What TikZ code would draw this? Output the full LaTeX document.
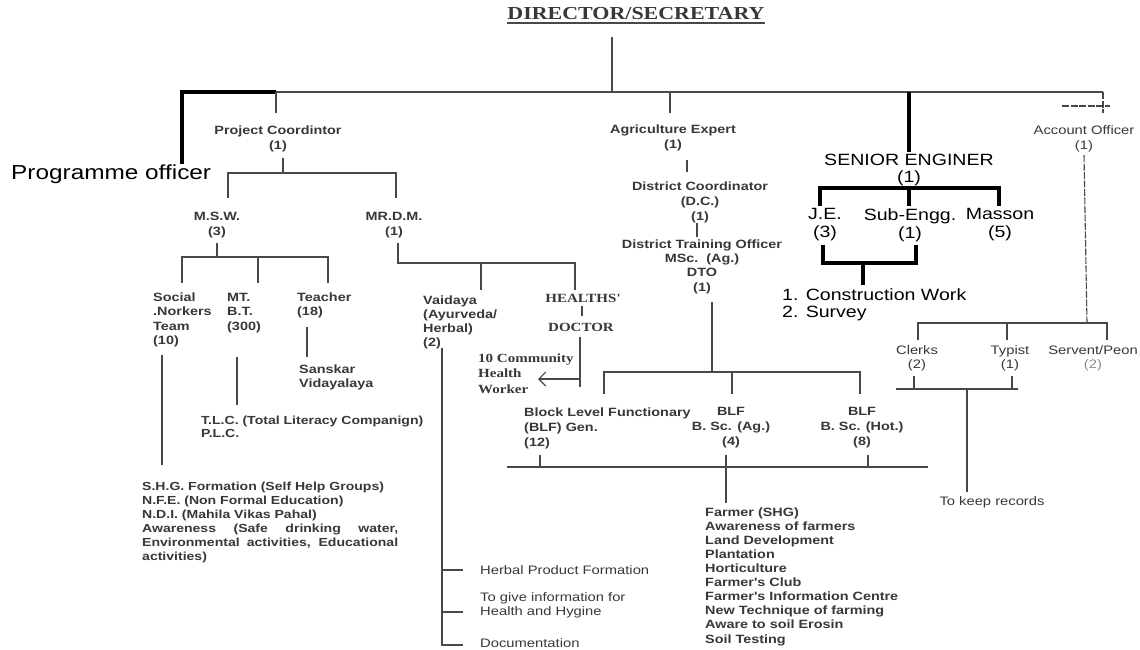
\documentclass[tikz,border=0pt]{standalone}
\usepackage{fontspec}
\newfontfamily\arw[FakeStretch=1.2]{Liberation Sans}
\newfontfamily\tms[FakeStretch=1.2]{Liberation Serif}
\usetikzlibrary{arrows.meta}
\definecolor{ink}{HTML}{383838}
\definecolor{lnc}{HTML}{484848}
\begin{document}
\begin{tikzpicture}[x=1pt,y=-1pt,
  ln/.style={draw=lnc, line width=1.1pt},
  thk/.style={draw=black, line width=3.4pt},
  dsh/.style={draw=lnc, line width=1.1pt, dash pattern=on 7pt off 1.5pt},
  sm/.style={inner sep=0pt, text=ink, font=\arw\bfseries\fontsize{12}{14.5}\selectfont, align=center},
  smr/.style={inner sep=0pt, text=ink, font=\arw\fontsize{12.3}{14}\selectfont, align=center},
  sml/.style={sm, align=left, anchor=west},
  smrl/.style={smr, align=left, anchor=west},
  big/.style={inner sep=0pt, text=black, font=\arw\fontsize{16.3}{18}\selectfont, align=center},
  bigl/.style={big, align=left, anchor=west, font=\arw\fontsize{16.3}{17}\selectfont},
  ser/.style={inner sep=0pt, text=ink, font=\tms\bfseries\fontsize{12.5}{15.5}\selectfont},
]
\useasboundingbox[fill=white] (0,0) rectangle (1140,649);

% ---------- title ----------
\node[inner sep=0pt, text=ink, font=\tms\bfseries\fontsize{18.3}{20}\selectfont] (dir) at (636,14) {DIRECTOR/SECRETARY};
\draw[ln] ([yshift=-3pt]dir.base west) -- ([yshift=-3pt]dir.base east);

% ---------- coordinates ----------
\coordinate (t0) at (612,37);  \coordinate (b0) at (612,92);
\coordinate (bL) at (276,92);  \coordinate (bR) at (1103,92);
\coordinate (poT) at (182,92);
\coordinate (pcT) at (276,113);
\coordinate (pcB) at (283,158); \coordinate (pcJ) at (283,173);
\coordinate (msJ) at (228,173); \coordinate (mrJ) at (396,173);
\coordinate (msA) at (228,198); \coordinate (mrA) at (396,198);
\coordinate (mswB) at (217,243); \coordinate (mswJ) at (217,257);
\coordinate (swJ) at (182,257); \coordinate (mtJ) at (258,257); \coordinate (teJ) at (328,257);
\coordinate (swA) at (182,283); \coordinate (mtA) at (258,283); \coordinate (teA) at (328,283);
\coordinate (teB) at (307,327); \coordinate (saT) at (307,357);
\coordinate (mtB) at (237,357); \coordinate (tlT) at (237,405);
\coordinate (swB) at (162,355); \coordinate (shT) at (162,465);
\coordinate (mrB) at (398,243); \coordinate (mrJ2) at (398,263);
\coordinate (vaJ) at (481,263); \coordinate (hdJ) at (575,263);
\coordinate (vaA) at (481,290); \coordinate (hdA) at (575,290);
\coordinate (hsB) at (582,306); \coordinate (dcT) at (582,316);
\coordinate (drB) at (580,337); \coordinate (drE) at (580,387);
\coordinate (arS) at (580,379); \coordinate (arE) at (538,379);
\coordinate (vaB) at (442,348); \coordinate (vaE) at (442,645); \coordinate (doE) at (463,645);
\coordinate (hpS) at (442,570); \coordinate (hpE) at (463,570);
\coordinate (hhS) at (442,612); \coordinate (hhE) at (463,612);
\coordinate (aeT) at (670,92);  \coordinate (aeA) at (670,113);
\coordinate (aeB) at (687,160); \coordinate (dcA) at (687,172);
\coordinate (dcB) at (697,223); \coordinate (dtA) at (697,237);
\coordinate (dtB) at (712,302); \coordinate (blJ) at (712,372);
\coordinate (b1J) at (604,372); \coordinate (b2J) at (732,372); \coordinate (b3J) at (860,372);
\coordinate (b1A) at (604,394); \coordinate (b2A) at (732,394); \coordinate (b3A) at (860,394);
\coordinate (fbL) at (507,467); \coordinate (fbR) at (928,467);
\coordinate (f1T) at (540,455); \coordinate (f1J) at (540,467);
\coordinate (f2T) at (726,455); \coordinate (fmA) at (726,503);
\coordinate (f3T) at (868,455); \coordinate (f3J) at (868,467);
\coordinate (seT) at (909,92);  \coordinate (seA) at (909,152);
\coordinate (seL) at (820,188); \coordinate (seM) at (909,188); \coordinate (seR) at (999,188);
\coordinate (jeA) at (820,206); \coordinate (sbA) at (909,206); \coordinate (maA) at (999,206);
\coordinate (jeB) at (823,245); \coordinate (jeC) at (823,263);
\coordinate (sbC) at (916,263); \coordinate (sbB) at (916,245);
\coordinate (cwJ) at (863,263); \coordinate (cwA) at (863,285);
\coordinate (acT) at (1103,113); \coordinate (acS1) at (1062,106); \coordinate (acS2) at (1110,106);
\coordinate (acB) at (1084,155); \coordinate (acJ) at (1087,323);
\coordinate (ckJ) at (918,323); \coordinate (tyJ) at (1007,323); \coordinate (srJ) at (1107,323);
\coordinate (ckA) at (918,340); \coordinate (tyA) at (1007,340); \coordinate (srA) at (1107,340);
\coordinate (kbL) at (896,389); \coordinate (kbR) at (1018,389);
\coordinate (ck1) at (914,376); \coordinate (ck2) at (914,389);
\coordinate (ty1) at (1012,376); \coordinate (ty2) at (1012,389);
\coordinate (krJ) at (967,389); \coordinate (krA) at (967,492);

% ---------- nodes ----------
\node[inner sep=0pt, text=black, font=\arw\fontsize{20.3}{22}\selectfont, anchor=west] (po) at (11,174) {Programme officer};
\node[sm] (pc) at (278,139) {Project Coordintor\\(1)};
\node[sm] (msw) at (217,225) {M.S.W.\\(3)};
\node[sm] (mrdm) at (394,225) {MR.D.M.\\(1)};
\node[sml] (sw) at (153,320) {Social\\.Norkers\\Team\\(10)};
\node[sml] (mt) at (227,313) {MT.\\B.T.\\(300)};
\node[sml] (te) at (297,305.5) {Teacher\\(18)};
\node[sml] (sa) at (299,377.5) {Sanskar\\Vidayalaya};
\node[sml, font=\arw\bfseries\fontsize{11.7}{13}\selectfont] (tlc) at (201,427) {T.L.C. (Total Literacy Companign)\\P.L.C.};
\node[sml, font=\arw\bfseries\fontsize{11.7}{14}\selectfont] (shg) at (142,522) {S.H.G. Formation (Self Help Groups)\\N.F.E. (Non Formal Education)\\N.D.I. (Mahila Vikas Pahal)\\\makebox[256pt][s]{Awareness (Safe drinking water,}\\\makebox[256pt][s]{Environmental activities, Educational}\\activities)};
\node[sml, font=\arw\bfseries\fontsize{12}{14}\selectfont] (va) at (423,322) {Vaidaya\\(Ayurveda/\\Herbal)\\(2)};
\node[ser] (hs) at (583,298) {HEALTHS'};
\node[ser] (doc) at (581,327) {DOCTOR};
\node[ser, align=left, anchor=west] (chw) at (478,373.5) {10 Community\\Health\\Worker};
\node[smrl] (hp) at (480,570) {Herbal Product Formation};
\node[smrl] (hh) at (480,605) {To give information for\\Health and Hygine};
\node[smrl] (docu) at (480,643) {Documentation};

\node[sm] (ae) at (673,138) {Agriculture Expert\\(1)};
\node[sm, font=\arw\bfseries\fontsize{12}{15}\selectfont] (dc) at (700,202) {District Coordinator\\(D.C.)\\(1)};
\node[sm, font=\arw\bfseries\fontsize{12}{14.3}\selectfont] (dto) at (702,266.5) {District Training Officer\\MSc.~~(Ag.)\\DTO\\(1)};
\node[sml, font=\arw\bfseries\fontsize{12}{15}\selectfont] (blf1) at (524,428) {Block Level Functionary\\(BLF) Gen.\\(12)};
\node[sm, font=\arw\bfseries\fontsize{12}{15}\selectfont] (blf2) at (731,428) {BLF\\B. Sc. (Ag.)\\(4)};
\node[sm, font=\arw\bfseries\fontsize{12}{15}\selectfont] (blf3) at (862,428) {BLF\\B. Sc. (Hot.)\\(8)};
\node[sml, font=\arw\bfseries\fontsize{12}{14.1}\selectfont] (fm) at (705,576.5) {Farmer (SHG)\\Awareness of farmers\\Land Development\\Plantation\\Horticulture\\Farmer's Club\\Farmer's Information Centre\\New Technique of farming\\Aware to soil Erosin\\Soil Testing};

\node[big, font=\arw\fontsize{16.3}{17}\selectfont] (se) at (909,169.5) {SENIOR ENGINER\\(1)};
\node[big] (je) at (825,225) {J.E.\\(3)};
\node[big] (sb) at (910,225) {Sub-Engg.\\(1)};
\node[big] (ma) at (1000,225) {Masson\\(5)};
\node[bigl] (cw) at (782,304.5) {1. Construction Work\\2. Survey};

\node[smr, font=\arw\fontsize{12.3}{15}\selectfont] (ao) at (1084,138.5) {Account Officer\\(1)};
\node[smr] (ck) at (917,358) {Clerks\\(2)};
\node[smr] (ty) at (1010,358) {Typist\\(1)};
\node[smr] (sp) at (1093,358) {Servent/Peon\\\textcolor{black!45}{(2)}};
\node[smr] (kr) at (992,502) {To keep records};

% ---------- connectors ----------
\draw[ln] (t0) -- (b0);
\draw[ln] (bL) -- (bR);
\draw[thk] (bL) -- (poT) -- (poT |- po.north);
\draw[ln] (bL) -- (pcT);
\draw[ln] (pcB) -- (pcJ);
\draw[ln] (msA) -- (msJ) -- (mrJ) -- (mrA);
\draw[ln] (mswB) -- (mswJ);
\draw[ln] (swA) -- (swJ) -- (teJ) -- (teA);
\draw[ln] (mtJ) -- (mtA);
\draw[ln] (teB) -- (saT);
\draw[ln] (mtB) -- (tlT);
\draw[ln] (swB) -- (shT);
\draw[ln] (mrB) -- (mrJ2) -- (hdJ) -- (hdA);
\draw[ln] (vaJ) -- (vaA);
\draw[ln] (hsB) -- (dcT);
\draw[ln] (drB) -- (drE);
\draw[ln, -{Straight Barb[length=7pt,width=14pt]}] (arS) -- (arE);
\draw[ln] (vaB) -- (vaE) -- (doE);
\draw[ln] (hpS) -- (hpE);
\draw[ln] (hhS) -- (hhE);
\draw[ln] (aeT) -- (aeA);
\draw[ln] (aeB) -- (dcA);
\draw[ln] (dcB) -- (dtA);
\draw[ln] (dtB) -- (blJ);
\draw[ln] (b1A) -- (b1J) -- (b3J) -- (b3A);
\draw[ln] (b2J) -- (b2A);
\draw[ln] (fbL) -- (fbR);
\draw[ln] (f1T) -- (f1J);
\draw[ln] (f2T) -- (fmA);
\draw[ln] (f3T) -- (f3J);
\draw[thk] (seT) -- (seA);
\draw[thk] (jeA) -- (seL) -- (seR) -- (maA);
\draw[thk] (seM) -- (sbA);
\draw[thk] (jeB) -- (jeC) -- (sbC) -- (sbB);
\draw[thk] (cwJ) -- (cwA);
\draw[dsh] (bR) -- (acT);
\draw[dsh] (acS1) -- (acS2);
\draw[dsh] (acB) -- (acJ);
\draw[ln] (ckA) -- (ckJ) -- (srJ) -- (srA);
\draw[ln] (tyJ) -- (tyA);
\draw[ln] (kbL) -- (kbR);
\draw[ln] (ck1) -- (ck2);
\draw[ln] (ty1) -- (ty2);
\draw[ln] (krJ) -- (krA);
\end{tikzpicture}
\end{document}
